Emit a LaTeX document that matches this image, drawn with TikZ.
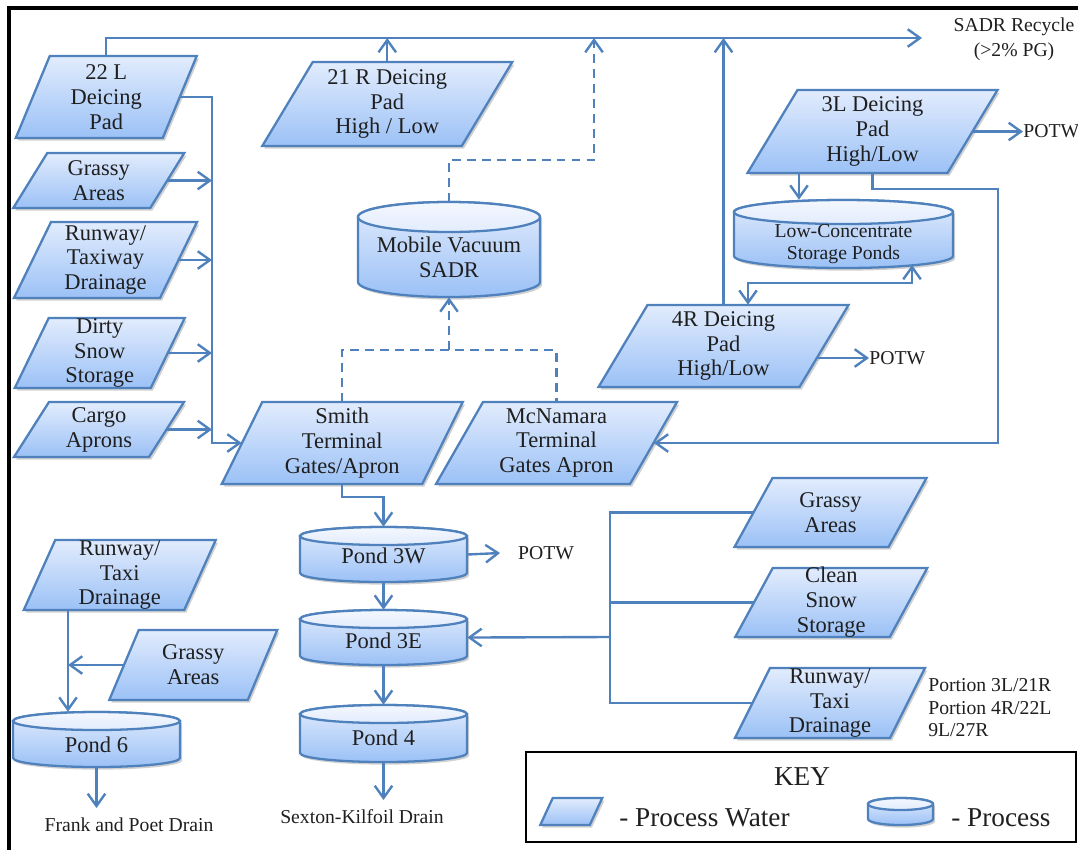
\documentclass[tikz,border=0pt]{standalone}
\usepackage{fontspec}
\setmainfont{Liberation Serif}
\usetikzlibrary{arrows.meta,shadows,calc}

\definecolor{flowblue}{RGB}{79,129,189}
\definecolor{padtop}{RGB}{226,236,253}
\definecolor{padbot}{RGB}{155,193,246}

\tikzset{
  conn/.style={draw=flowblue, line width=1.35pt},
  arr/.style={-{Straight Barb[length=7pt,width=10pt]}},
  both/.style={{Straight Barb[length=7pt,width=10pt]}-{Straight Barb[length=7pt,width=10pt]}},
  dashc/.style={conn, dash pattern=on 5pt off 3.5pt},
  shapefill/.style={draw=flowblue, line width=1.3pt, top color=padtop, bottom color=padbot,
    drop shadow={shadow xshift=1.2pt, shadow yshift=-1.5pt, opacity=.3, fill=black!60}},
  capfill/.style={draw=flowblue, line width=1.3pt, top color=padtop!40!white, bottom color=padtop},
  lbl/.style={inner sep=0pt, align=center, text=black!88},
  bigtxt/.style={font=\fontsize{12.8}{14.2}\selectfont},
  smalltxt/.style={font=\fontsize{11.2}{12.4}\selectfont},
  keytxt/.style={font=\fontsize{15.5}{17}\selectfont},
}

% parallelogram: name, cx, cy, width, height, slant, text style, text
\newcommand\pgram[8]{%
  \path[shapefill] ({#2-#4/2+#6/2},{#3-#5/2}) -- ++(#4,0) -- ++(-#6,#5) -- ++(-#4,0) -- cycle;
  \node[lbl, #7, minimum width={#4*0.02cm}, minimum height={#5*0.02cm}] (#1) at (#2,#3) {#8};
}
% cylinder: name, cx, top, bottom, half width, cap radius, text y, text style, text
\newcommand\cylinder[9]{%
  \path[shapefill] (#2-#5,#3+#6) -- (#2-#5,#4-#6)
    arc[start angle=180, end angle=360, x radius={#5*0.02cm}, y radius={#6*0.02cm}]
    -- (#2+#5,#3+#6)
    arc[start angle=0, end angle=180, x radius={#5*0.02cm}, y radius={#6*0.02cm}] -- cycle;
  \path[capfill] (#2,#3+#6) ellipse[x radius={#5*0.02cm}, y radius={#6*0.02cm}];
  \node[inner sep=0pt, minimum width={2*#5*0.02cm}, minimum height={(#4-#3)*0.02cm}] (#1) at (#2,{(#3+#4)/2}) {};
  \node[lbl, #8] (#1-t) at (#2,#7) {#9};
}

\begin{document}
\begin{tikzpicture}[x=0.02cm, y=-0.02cm]
\useasboundingbox (0,0) rectangle (1078,850);
\fill[white] (0,0) rectangle (1078,850);

% outer frame
\draw[black, line width=2pt] (9,850) -- (9,8) -- (1078,8);

% process water areas
\pgram{p22L}{106.25}{97}{147}{82}{34}{bigtxt}{22 L\\Deicing\\Pad}
\pgram{grassA}{98.75}{180.5}{137}{55}{34}{bigtxt}{Grassy\\Areas}
\pgram{runA}{105.5}{260}{146}{76}{37}{bigtxt}{Runway/\\Taxiway\\Drainage}
\pgram{dirty}{99.75}{353}{136}{70}{34}{bigtxt}{Dirty\\Snow\\Storage}
\pgram{cargo}{99}{429.5}{135}{55}{35}{bigtxt}{Cargo\\Aprons}
\pgram{p21R}{387.25}{104}{199.5}{84}{50.5}{bigtxt}{21 R Deicing\\Pad\\High / Low}
\pgram{smith}{342.25}{443}{200.5}{82}{40.5}{bigtxt}{Smith\\Terminal\\Gates/Apron}
\pgram{mcn}{556.5}{443}{194}{82}{47}{bigtxt}{McNamara\\Terminal\\Gates Apron}
\pgram{p3L}{872.5}{131.5}{200}{83}{50}{bigtxt}{3L Deicing\\Pad\\High/Low}
\pgram{p4R}{723.5}{346}{201}{82}{49}{bigtxt}{4R Deicing\\Pad\\High/Low}
\pgram{grassR}{830.5}{512.5}{154}{69}{38}{bigtxt}{Grassy\\Areas}
\pgram{clean}{831.25}{602.5}{154.5}{69}{37.5}{bigtxt}{Clean\\Snow\\Storage}
\pgram{runR}{830}{703}{155}{70}{35}{bigtxt}{Runway/\\Taxi\\Drainage}
\pgram{runL}{119.75}{575}{160.5}{70}{31.5}{bigtxt}{Runway/\\Taxi\\Drainage}
\pgram{grassL}{193.25}{665}{138.5}{70}{29.5}{bigtxt}{Grassy\\Areas}

% processes
\cylinder{mob}{449}{202}{297}{91}{15}{257}{bigtxt}{Mobile Vacuum\\SADR}
\cylinder{lowc}{843.5}{200}{268}{109.5}{12}{244}{smalltxt}{Low-Concentrate\\Storage Ponds}
\cylinder{p3W}{383.5}{527}{582}{83.5}{9}{556}{bigtxt}{Pond 3W}
\cylinder{p3E}{383.5}{610}{665}{83.5}{9}{641}{bigtxt}{Pond 3E}
\cylinder{p4}{383.5}{705}{762}{83.5}{9}{738}{bigtxt}{Pond 4}
\cylinder{p6}{96.5}{712}{767}{83.5}{9}{745}{bigtxt}{Pond 6}

% free labels
\node[lbl, font=\fontsize{11.2}{14}\selectfont] (sadr) at (1014,39.5) {SADR Recycle\\(>2\% PG)};
\node[lbl, smalltxt, anchor=west] (potwA) at (1023,131.5) {POTW};
\node[lbl, smalltxt, anchor=west] (potwB) at (869,358) {POTW};
\node[lbl, smalltxt] (potwC) at (546,553) {POTW};
\node[lbl, smalltxt] (sexton) at (362,817) {Sexton-Kilfoil Drain};
\node[lbl, smalltxt] (frank) at (129,825) {Frank and Poet Drain};
\node[lbl, font=\fontsize{11.2}{12.8}\selectfont, align=left, anchor=west] (portion) at (928,708)
  {Portion 3L/21R\\Portion 4R/22L\\9L/27R};

% bends and free ends
\coordinate (recyc) at (922,38);
\coordinate (dashUp) at (594,38);
\coordinate (dashBend) at (594,160);
\coordinate (dashJoin) at (449,350);
\coordinate (colTop) at (212,97);
\coordinate (colBot) at (212,443);
\coordinate (drop3L) at (799,0);
\coordinate (rtBus) at (998,189);
\coordinate (lnkA) at (748,283);
\coordinate (lnkB) at (912,265);
\coordinate (potw4s) at (816,358);
\coordinate (smBend) at (383.5,497);
\coordinate (potw3tip) at (500,553);
\coordinate (busR) at (610,637);
\coordinate (busL) at (68,665);
\coordinate (drainA) at (96.5,808);
\coordinate (drainB) at (383.5,800);

% recycle header
\draw[conn,arr] (p22L.north) |- (recyc);
\draw[conn,arr] (p21R.north) -- (p21R.north |- recyc);
\draw[conn,arr] (p4R.north) -- (p4R.north |- recyc);
\draw[dashc,arr] (mob.north) |- (dashBend) -- (dashUp);

% terminals to mobile vacuum
\draw[dashc] (smith.north) |- (dashJoin) -| (mcn.north);
\draw[dashc,arr] (dashJoin) -- (mob.south);

% left collector
\draw[conn,arr] (p22L.east) -- (colTop) -- (colBot) -- (smith.west);
\foreach \n in {grassA,runA,dirty,cargo}
  \draw[conn,arr] (\n.east) -- (\n.east -| colTop);

% 3L and 4R pads
\draw[conn,arr] (p3L.east) -- (potwA.west);
\draw[conn,arr] (p3L.south -| drop3L) -- (lowc.north -| drop3L);
\draw[conn,arr] (p3L.south) |- (rtBus) |- (mcn.east);
\draw[conn,both] (p4R.north -| lnkA) -- (lnkA) -| (lnkB);
\draw[conn,arr] (potw4s) -- (potwB.west);

% pond chain
\draw[conn,arr] (smith.south) |- (smBend) -- (p3W.north);
\draw[conn,arr] (p3W.east) -- (potw3tip);
\draw[conn,arr] (p3W.south) -- (p3E.north);
\draw[conn,arr] (p3E.south) -- (p4.north);
\draw[conn,arr] (p4.south) -- (drainB);

% right collector
\draw[conn] (grassR.west) -| (busR) |- (runR.west);
\draw[conn] (clean.west) -- (clean.west -| busR);
\draw[conn,arr] (busR) -- (p3E.east);

% pond 6
\draw[conn,arr] (runL.south -| busL) -- (p6.north -| busL);
\draw[conn,arr] (grassL.west) -- (busL);
\draw[conn,arr] (p6.south) -- (drainA);

% key
\draw[black, line width=1.3pt] (526,752) rectangle (1076,842);
\node[lbl, keytxt] (keyT) at (802,777) {KEY};
\pgram{keyP}{571.25}{811.5}{49.5}{27}{12.5}{bigtxt}{}
\cylinder{keyC}{900.5}{798}{825}{32.5}{6}{811}{bigtxt}{}
\node[lbl, keytxt, anchor=west] (keyW) at (619,818) {- Process Water};
\node[lbl, keytxt, anchor=west] (keyPr) at (951,818) {- Process};
\end{tikzpicture}
\end{document}
